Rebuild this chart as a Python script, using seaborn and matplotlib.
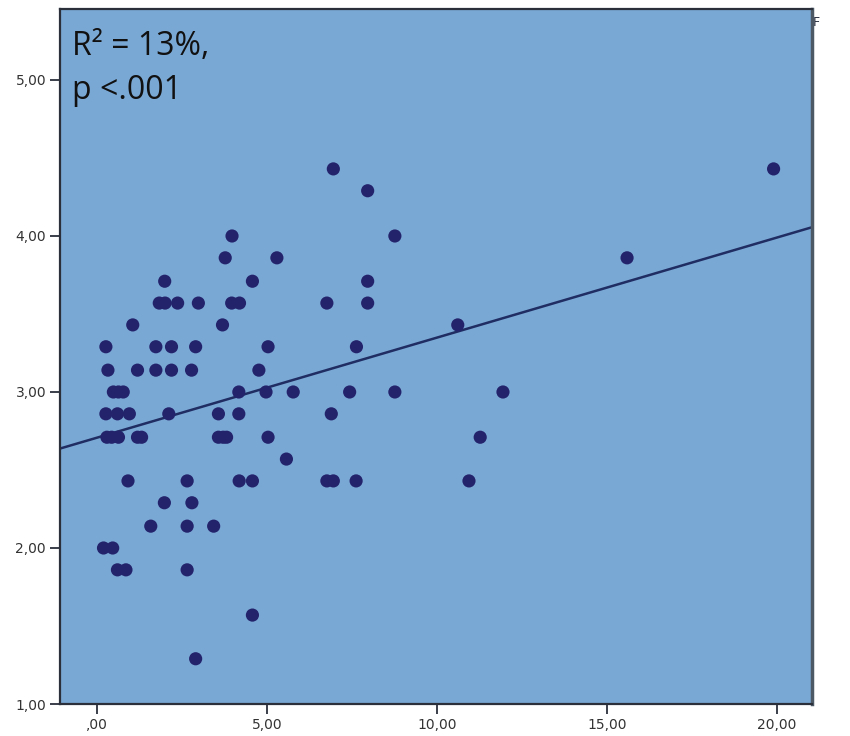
import matplotlib
matplotlib.use("Agg")
import matplotlib.pyplot as plt
import seaborn as sns
import pandas as pd
from matplotlib.ticker import FuncFormatter, FixedLocator

# ---- data ----
x_vals = [
    6.95, 19.90,
    7.96,
    3.97, 8.76,
    3.77, 5.29, 15.59,
    1.99, 4.57, 7.96,
    1.83, 2.00, 2.37, 2.98, 3.96, 4.19, 6.76, 7.96,
    1.05, 3.69, 10.61,
    0.26, 1.73, 2.19, 2.90, 5.03, 7.63,
    0.32, 1.19, 1.73, 2.19, 2.78, 4.76,
    0.48, 0.63, 0.77, 4.17, 4.97, 5.77, 7.43, 8.76, 11.94,
    0.26, 0.60, 0.95, 2.11, 3.57, 4.17, 6.89,
    0.29, 0.43, 0.63, 1.19, 1.31, 3.57, 3.71, 3.81, 5.03, 11.27,
    5.57,
    0.91, 2.65, 4.18, 4.57, 6.76, 6.95, 7.62, 10.94,
    1.98, 2.79,
    1.58, 2.65, 3.43,
    0.19, 0.46,
    0.60, 0.85, 2.65,
    4.57,
    2.90,
]
y_vals = [
    4.43, 4.43,
    4.29,
    4.00, 4.00,
    3.86, 3.86, 3.86,
    3.71, 3.71, 3.71,
    3.57, 3.57, 3.57, 3.57, 3.57, 3.57, 3.57, 3.57,
    3.43, 3.43, 3.43,
    3.29, 3.29, 3.29, 3.29, 3.29, 3.29,
    3.14, 3.14, 3.14, 3.14, 3.14, 3.14,
    3.00, 3.00, 3.00, 3.00, 3.00, 3.00, 3.00, 3.00, 3.00,
    2.86, 2.86, 2.86, 2.86, 2.86, 2.86, 2.86,
    2.71, 2.71, 2.71, 2.71, 2.71, 2.71, 2.71, 2.71, 2.71, 2.71,
    2.57,
    2.43, 2.43, 2.43, 2.43, 2.43, 2.43, 2.43, 2.43,
    2.29, 2.29,
    2.14, 2.14, 2.14,
    2.00, 2.00,
    1.86, 1.86, 1.86,
    1.57,
    1.29,
]
x_ticks = [0, 5, 10, 15, 20]
y_ticks = [1, 2, 3, 4, 5]
annotation_lines = ["R\u00b2 = 13%,", "p <.001"]

df = pd.DataFrame({"x": x_vals, "y": y_vals})

# ---- style ----
bg = "#7aa8d5"
dot = "#23236b"
line_c = "#1f2d63"
spine_c = "#2a2f3a"

sns.set_theme(style="white")
plt.rcParams["font.family"] = ["DejaVu Sans"]

fig = plt.figure(figsize=(8.5, 7.36), dpi=100)
ax = fig.add_axes([60 / 850, 32 / 736, 752 / 850, 695 / 736])
ax.set_facecolor(bg)
ax.set_xlim(-1.09, 21.03)
ax.set_ylim(1.0, 5.455)

sns.regplot(data=df, x="x", y="y", ax=ax, ci=None, truncate=False,
            scatter_kws=dict(s=90, color=dot, edgecolor="none", alpha=1, zorder=3),
            line_kws=dict(color=line_c, lw=1.8, zorder=2))
ax.set_xlim(-1.09, 21.03)
ax.set_ylim(1.0, 5.455)
ax.set_xlabel("")
ax.set_ylabel("")


def fmt(v, pos):
    s = f"{v:.2f}".replace(".", ",")
    if s.startswith("0,"):
        s = s[1:]
    return s


ax.xaxis.set_major_locator(FixedLocator(x_ticks))
ax.yaxis.set_major_locator(FixedLocator(y_ticks))
ax.xaxis.set_major_formatter(FuncFormatter(fmt))
ax.yaxis.set_major_formatter(FuncFormatter(fmt))
ax.tick_params(axis="both", which="major", direction="out", length=7, width=1.3,
               color=spine_c, labelsize=10, labelcolor="#333333", pad=3,
               bottom=True, left=True)

for side, sp in ax.spines.items():
    sp.set_visible(True)
    sp.set_color(spine_c)
    sp.set_linewidth(1.6)
ax.spines["right"].set_color("#4d5a66")
ax.spines["right"].set_linewidth(2.5)

fig.text(72 / 850, 1 - 55 / 736, annotation_lines[0], family=["Open Sans", "DejaVu Sans"],
         fontsize=23, color="#111111", va="baseline", ha="left")
fig.text(72 / 850, 1 - 99 / 736, annotation_lines[1], family=["Open Sans", "DejaVu Sans"],
         fontsize=23, color="#111111", va="baseline", ha="left")
fig.text(813 / 850, 1 - 22 / 736, "F", fontsize=9, color="#2a3040", va="center", ha="left")

fig.savefig("out.png", dpi=100, facecolor="white")
